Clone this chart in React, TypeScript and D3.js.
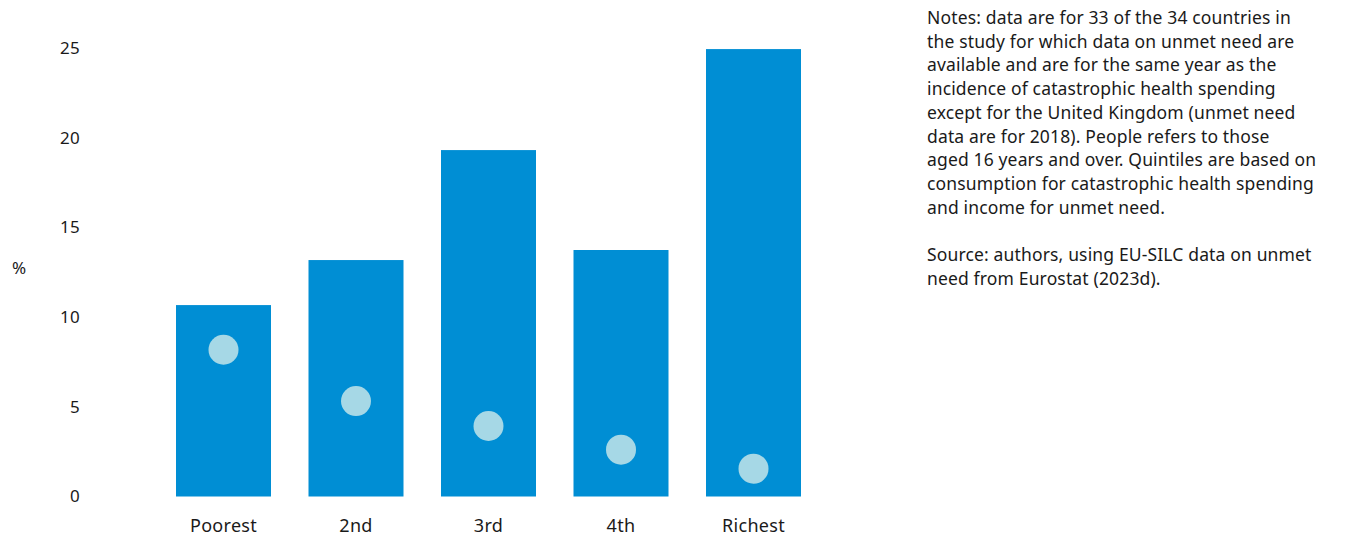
import React from "react";
import * as d3 from "d3";

const categories = ["Poorest", "2nd", "3rd", "4th", "Richest"];
const barValues = [10.67, 13.18, 19.31, 13.74, 24.94];
const dotValues = [8.18, 5.32, 3.93, 2.61, 1.55];
const yTicks = [0, 5, 10, 15, 20, 25];
const noteLines = [
  "Notes: data are for 33 of the 34 countries in",
  "the study for which data on unmet need are",
  "available and are for the same year as the",
  "incidence of catastrophic health spending",
  "except for the United Kingdom (unmet need",
  "data are for 2018). People refers to those",
  "aged 16 years and over. Quintiles are based on",
  "consumption for catastrophic health spending",
  "and income for unmet need.",
  "",
  "Source: authors, using EU-SILC data on unmet",
  "need from Eurostat (2023d).",
];

const W = 1363;
const H = 539;
const FONT = "'Noto Sans', sans-serif";

export default function App() {
  const x = d3
    .scaleBand<string>()
    .domain(categories)
    .range([157.25, 819.75])
    .paddingInner(0.283)
    .paddingOuter(0.1415);
  const y = d3.scaleLinear().domain([0, 25]).range([496.5, 48]);

  return (
    <svg
      width={W}
      height={H}
      style={{ position: "absolute", left: 0, top: 0, background: "#fff" }}
      fontFamily={FONT}
    >
      {yTicks.map((t) => (
        <text key={t} x={80} y={y(t)} dy="0.35em" textAnchor="end" fontSize={17} letterSpacing={0.3} fill="#1a1a1a">
          {t}
        </text>
      ))}
      <text x={19} y={268} dy="0.35em" textAnchor="middle" fontSize={17} fill="#1a1a1a">
        %
      </text>
      {categories.map((c, i) => (
        <rect
          key={c}
          x={x(c)}
          y={y(barValues[i])}
          width={x.bandwidth()}
          height={y(0) - y(barValues[i])}
          fill="#008ed4"
        />
      ))}
      {categories.map((c, i) => (
        <circle
          key={c}
          cx={(x(c) as number) + x.bandwidth() / 2}
          cy={y(dotValues[i])}
          r={15}
          fill="#a6d8e6"
        />
      ))}
      {categories.map((c) => (
        <text
          key={c}
          x={(x(c) as number) + x.bandwidth() / 2}
          y={532}
          textAnchor="middle"
          fontSize={18}
          letterSpacing={0.3}
          fill="#1a1a1a"
        >
          {c}
        </text>
      ))}
      {noteLines.map((l, i) => (
        <text key={i} x={927} y={24 + i * 23.7} fontSize={17.5} letterSpacing={0.15} fill="#1a1a1a">
          {l}
        </text>
      ))}
    </svg>
  );
}
